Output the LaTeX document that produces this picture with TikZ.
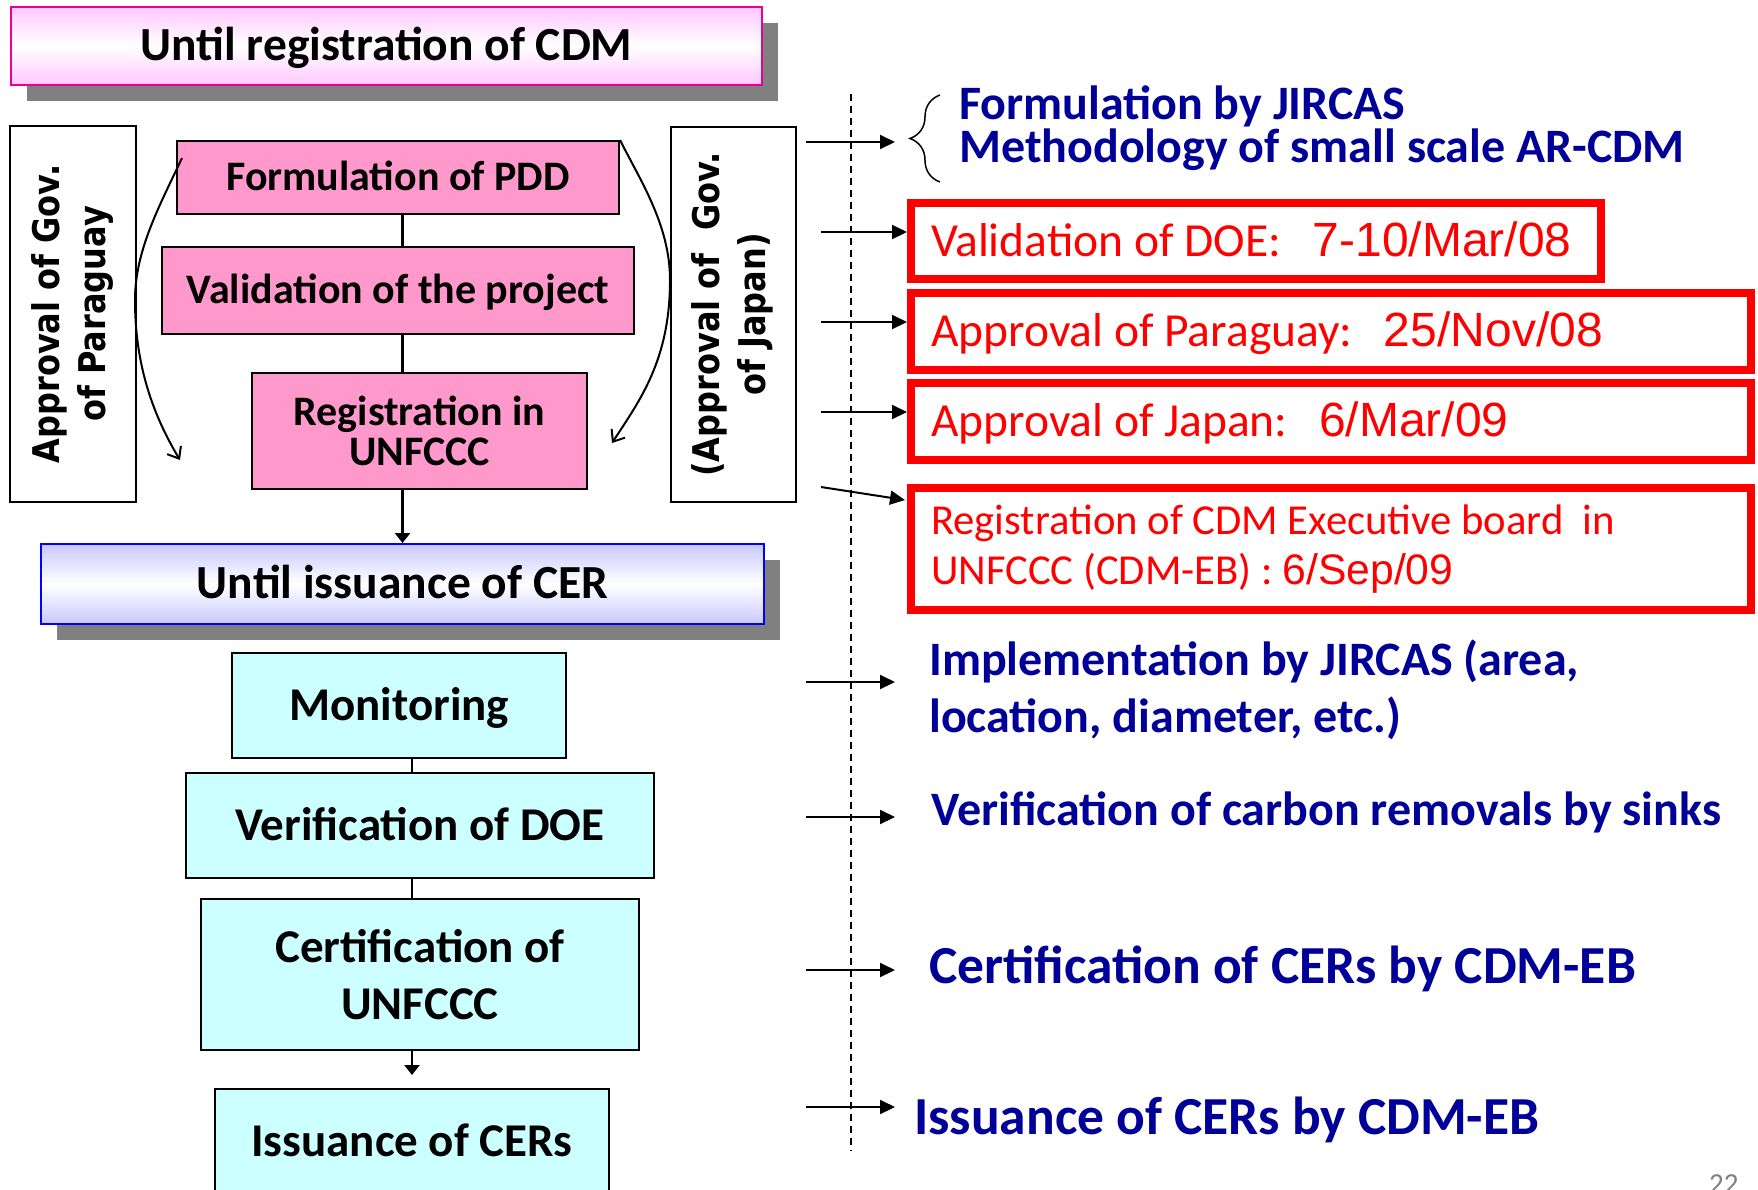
\documentclass[tikz,border=0pt]{standalone}
\usepackage{fontspec}
\setmainfont{Carlito}
\newfontfamily\dvsfont{DejaVu Sans}
\newfontfamily\arlfont{Liberation Sans}
\usetikzlibrary{arrows.meta,decorations.pathreplacing,shadows}
\definecolor{pinkfill}{RGB}{255,153,204}
\definecolor{cyanfill}{RGB}{204,255,255}
\definecolor{navy}{RGB}{0,0,153}
\definecolor{shadowgray}{RGB}{128,128,128}
\definecolor{hdrpink}{RGB}{255,200,255}
\definecolor{hdrblue}{RGB}{200,200,255}
\definecolor{pagegray}{RGB}{128,128,128}
\newcommand{\sidetext}[1]{\scalebox{1}[1.15]{\begin{tabular}{@{}c@{}}#1\end{tabular}}}
\newcommand{\datefont}{\arlfont\fontsize{48}{50}\selectfont}
\begin{document}
\begin{tikzpicture}[x=1pt,y=-1pt,
  bx/.style={draw=black,line width=2pt,inner sep=0pt,align=center},
  pinkbx/.style={bx,fill=pinkfill,font=\fontsize{42}{40}\selectfont\bfseries},
  cyanbx/.style={bx,fill=cyanfill,font=\fontsize{47}{57}\selectfont\bfseries},
  onepink/.style={text height=26.5pt,text depth=0pt},
  onecyan/.style={text height=29.7pt,text depth=0pt},
  hdr/.style={line width=2pt,inner sep=0pt,font=\fontsize{47.5}{57}\selectfont\bfseries,
    text height=29.7pt,text depth=0pt,
    drop shadow={shadow xshift=16pt,shadow yshift=-16pt,fill=shadowgray,opacity=1}},
  sidebx/.style={draw=black,line width=2pt,fill=white,rotate=90,inner sep=0pt,
    font=\dvsfont\bfseries\fontsize{32}{40}\selectfont},
  redbx/.style={draw=red,line width=8pt,fill=white,inner xsep=20pt,inner ysep=0pt,align=flush left,
    text=red,font=\fontsize{47.5}{50}\selectfont},
  bluetxt/.style={text=navy,inner sep=0pt,font=\fontsize{48}{57}\selectfont\bfseries,align=left,anchor=base west},
  arr/.style={line width=2pt,-{Triangle[length=15pt,width=14pt]}},
  conn/.style={line width=2.5pt},
  curv/.style={line width=2pt,-{Straight Barb[length=10pt,width=16pt]}},
]
\useasboundingbox (0,0) rectangle (1758,1189);
\fill[white] (0,0) rectangle (1758,1189);

% ---- headers
\node[hdr,draw=magenta,top color=hdrpink,bottom color=hdrpink,middle color=white,
  minimum width=751,minimum height=78] (hdr1) at (386.5,46) {Until registration of CDM};
\node[hdr,draw=blue,top color=hdrblue,bottom color=hdrblue,middle color=white,
  minimum width=723,minimum height=80] (hdr2) at (402.5,584) {Until issuance of CER};

% ---- upper flow
\node[pinkbx,onepink,minimum width=442,minimum height=73] (pdd) at (398,177.5) {Formulation of PDD};
\node[pinkbx,onepink,minimum width=472,minimum height=87] (val) at (398,290.5) {Validation of the project};
\node[pinkbx,minimum width=335,minimum height=116] (reg) at (419.5,431) {Registration in\\UNFCCC};

\node[sidebx,minimum width=376,minimum height=126] (lside) at (73,314)
  {\sidetext{Approval of Gov.\\of Paraguay}};
\node[sidebx,minimum width=375,minimum height=125] (rside) at (733.5,314.5)
  {\sidetext{(Approval of~~Gov.\\of Japan)}};

\draw[conn] (pdd.south -| hdr2.north) -- (val.north -| hdr2.north);
\draw[conn] (val.south -| hdr2.north) -- (reg.north -| hdr2.north);
\draw[conn,-{Triangle[length=10pt,width=15pt]}] (reg.south -| hdr2.north) -- (hdr2.north);

\coordinate (lcs) at (182,158);
\coordinate (lce) at (180,460);
\coordinate (rce) at (612,443);
\draw[curv] (lcs) .. controls (160,205) and (135,250) .. (135,300)
  .. controls (135,360) and (150,410) .. (lce);
\draw[curv] (pdd.north east) .. controls (640,180) and (670,225) .. (670,280)
  .. controls (670,360) and (640,400) .. (rce);

% ---- lower flow
\node[cyanbx,onecyan,minimum width=334,minimum height=105] (mon) at (399,705.5) {Monitoring};
\node[cyanbx,onecyan,minimum width=468,minimum height=105] (ver) at (420,825.5) {Verification of DOE};
\node[cyanbx,minimum width=438,minimum height=151] (cert) at (420,974.5) {Certification of\\UNFCCC};
\node[cyanbx,onecyan,minimum width=394,minimum height=106] (iss) at (412,1142) {Issuance of CERs};

\draw[conn] (mon.south -| iss.north) -- (ver.north -| iss.north);
\draw[conn] (ver.south -| iss.north) -- (cert.north -| iss.north);
\draw[conn,-{Triangle[length=10pt,width=15pt]},shorten >=13pt] (cert.south -| iss.north) -- (iss.north);

% ---- dashed separator
\coordinate (dtop) at (851,94);
\coordinate (dbot) at (851,1151);
\draw[line width=1.5pt,dash pattern=on 7pt off 5pt] (dtop) -- (dbot);

% ---- right column: blue texts (base = baseline of the last line)
\node[bluetxt,font=\fontsize{48}{41}\selectfont\bfseries] (form) at (959,162)
  {Formulation by JIRCAS\\Methodology of small scale AR-CDM};
\draw[line width=1.5pt,decorate,decoration={brace,amplitude=30pt,aspect=0.5}] (940,182) -- (940,95);

\node[bluetxt] (impl) at (929,732) {Implementation by JIRCAS (area,\\location, diameter, etc.)};
\node[bluetxt] (verc) at (931,825) {Verification of carbon removals by sinks};
\node[bluetxt,font=\fontsize{53.5}{60}\selectfont\bfseries] (certc) at (929,983) {Certification of CERs by CDM-EB};
\node[bluetxt,font=\fontsize{53.5}{60}\selectfont\bfseries] (issc) at (914,1134) {Issuance of CERs by CDM-EB};

% ---- right column: red boxes
\node[redbx,text width=650,minimum height=76,text height=30pt,text depth=0pt] (rb1) at (1256,241)
  {Validation of DOE:~~\hspace{10pt}{\datefont 7-10/Mar/08}};
\node[redbx,text width=800,minimum height=77,text height=29pt,text depth=0pt] (rb2) at (1331,331.5)
  {Approval of Paraguay:~~\hspace{10pt}{\datefont 25/Nov/08}};
\node[redbx,text width=800,minimum height=77,text height=29pt,text depth=0pt] (rb3) at (1331,421.5)
  {Approval of Japan:~~\hspace{10pt}{\datefont 6/Mar/09}};
\node[redbx,text width=800,minimum height=122,font=\fontsize{42.7}{50}\selectfont] (rb4) at (1331,549)
  {Registration of CDM Executive board~~in\\UNFCCC (CDM-EB) : {\arlfont 6/Sep/09}};

% ---- right column: arrows
\coordinate (a1) at (806,142);
\coordinate (a2) at (821,232);
\coordinate (a3) at (821,322);
\coordinate (a4) at (821,412);
\coordinate (a5) at (821,487);
\coordinate (a6) at (806,682);
\coordinate (a7) at (806,817);
\coordinate (a8) at (806,970);
\coordinate (a9) at (806,1107);
\draw[arr,shorten >=64pt] (a1) -- (a1 -| form.west);
\draw[arr] (a2) -- (a2 -| rb1.west);
\draw[arr] (a3) -- (a3 -| rb2.west);
\draw[arr] (a4) -- (a4 -| rb3.west);
\draw[arr] (a5) -- ([shift={(-2,16)}]rb4.north west);
\draw[arr,shorten >=34pt] (a6) -- (a6 -| impl.west);
\draw[arr,shorten >=36pt] (a7) -- (a7 -| verc.west);
\draw[arr,shorten >=34pt] (a8) -- (a8 -| certc.west);
\draw[arr,shorten >=19pt] (a9) -- (a9 -| issc.west);

% ---- page number (cut by the page edge)
\node[anchor=base west,inner sep=0pt,text=pagegray,font=\fontsize{29}{30}\selectfont] (pnum) at (1709,1193) {22};
\end{tikzpicture}
\end{document}
